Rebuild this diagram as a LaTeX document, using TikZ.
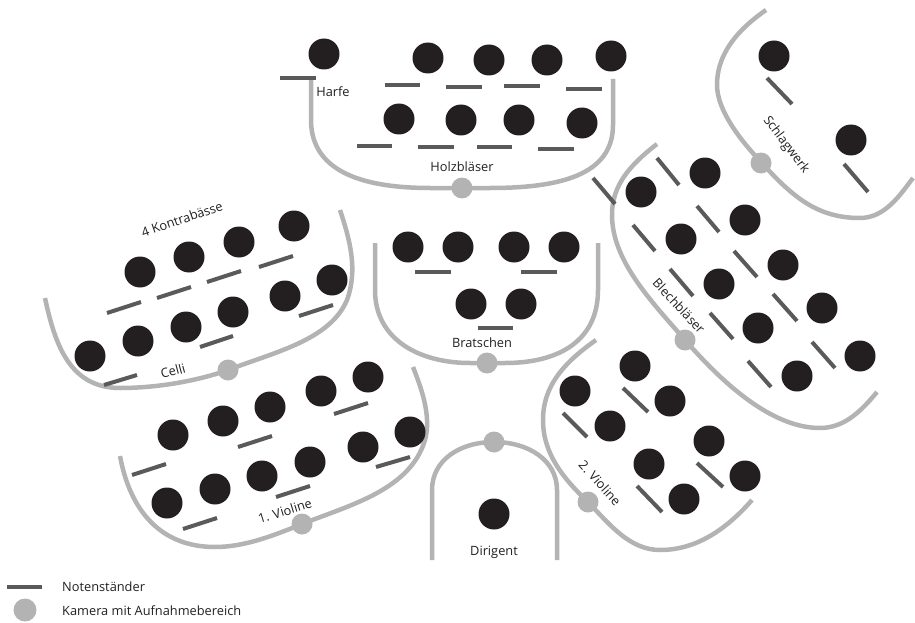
\documentclass[tikz,border=0pt]{standalone}
\usepackage{fontspec}
\setmainfont{Open Sans}
\definecolor{ink}{HTML}{231F20}
\definecolor{standc}{HTML}{5A5A5C}
\definecolor{wallc}{HTML}{B3B3B3}
\begin{document}
\begin{tikzpicture}[x=1pt,y=-1pt,
 player/.style={circle,fill=ink,minimum size=31pt,inner sep=0pt},
 cam/.style={circle,fill=wallc,minimum size=21pt,inner sep=0pt},
 stand/.style={draw=standc,line width=4pt},
 wall/.style={draw=wallc,line width=4.5pt},
 lbl/.style={text=ink,font=\fontsize{12.8}{15}\selectfont,inner sep=0pt}]
\useasboundingbox (0,0) rectangle (915,623);

% ---------- walls ----------
% Holzblaeser
\draw[wall] (311,78) -- (311,120) .. controls (311,175) and (370,188) .. (430,188) -- (490,188) .. controls (560,188) and (613,175) .. (613,125) -- (613,79);
% Schlagwerk
\draw[wall] (766,10) .. controls (730,35) and (717,60) .. (717,85) .. controls (717,110) and (740,140) .. (762,163) .. controls (795,200) and (820,218) .. (860,218) .. controls (885,218) and (900,195) .. (913,178);
% Blechblaeser
\draw[wall] (657,144) .. controls (630,165) and (612,185) .. (612,215) .. controls (612,260) and (650,300) .. (685,340) .. controls (720,380) and (770,428) .. (820,428) .. controls (845,428) and (862,410) .. (877,392);
% Celli
\draw[wall] (45,298) .. controls (55,345) and (70,388) .. (120,388) .. controls (160,388) and (200,380) .. (228,370) .. controls (275,352) and (330,340) .. (347,300) .. controls (358,270) and (350,240) .. (340,210);
% 1. Violine
\draw[wall] (120,456) .. controls (130,510) and (160,547) .. (215,547) .. controls (245,547) and (275,535) .. (302,524) .. controls (350,505) and (410,490) .. (425,440) .. controls (432,415) and (420,385) .. (413,367);
% Bratschen
\draw[wall] (375,243) -- (375,290) .. controls (375,340) and (420,363) .. (470,363) -- (505,363) .. controls (560,363) and (598,340) .. (598,290) -- (598,243);
% Dirigent
\draw[wall] (432,560) -- (432,490) .. controls (432,460) and (460,442) .. (494,442) .. controls (528,442) and (557,460) .. (557,490) -- (557,560);
% 2. Violine
\draw[wall] (596,340) .. controls (565,362) and (543,385) .. (543,420) .. controls (543,455) and (565,480) .. (588,502) .. controls (610,525) and (630,550) .. (660,550) .. controls (700,550) and (730,525) .. (752,500);

% ---------- cameras ----------
\node[cam] (camWW) at (462,188) {};
\node[cam] (camSW) at (761,163) {};
\node[cam] (camBB) at (685,340) {};
\node[cam] (camCE) at (228,370) {};
\node[cam] (camV1) at (302,524) {};
\node[cam] (camBR) at (487,363) {};
\node[cam] (camDI) at (494,442) {};
\node[cam] (camV2) at (588,502) {};

% ---------- music stands ----------
% Harfe + Holzblaeser
\draw[stand] (280,78) -- (316,78);
\draw[stand] (385,85) -- (420,85);
\draw[stand] (446,87) -- (482,87);
\draw[stand] (504,86) -- (540,86);
\draw[stand] (566,89) -- (602,89);
\draw[stand] (357,146) -- (392,146);
\draw[stand] (418,147) -- (454,147);
\draw[stand] (477,147) -- (512,147);
\draw[stand] (538,149) -- (574,149);
% Schlagwerk
\draw[stand] (767,78) -- (792,104);
\draw[stand] (844,164) -- (868,192);
% Blechblaeser
\draw[stand] (593,178) -- (615,204);
\draw[stand] (657,158) -- (679,185);
\draw[stand] (697,206) -- (719,232);
\draw[stand] (633,225) -- (655,251);
\draw[stand] (734,251) -- (757,277);
\draw[stand] (670,269) -- (693,296);
\draw[stand] (773,294) -- (797,321);
\draw[stand] (710,313) -- (733,339);
\draw[stand] (812,342) -- (835,368);
\draw[stand] (748,361) -- (771,387);
% Celli / Kontrabaesse
\draw[stand] (107,313) -- (141,302);
\draw[stand] (157,298) -- (191,287);
\draw[stand] (207,282) -- (241,271);
\draw[stand] (259,267) -- (293,256);
\draw[stand] (200,347) -- (233,336);
\draw[stand] (299,316) -- (333,305);
\draw[stand] (104,385) -- (137,375);
% 1. Violine
\draw[stand] (132,475) -- (166,464);
\draw[stand] (238,447) -- (272,436);
\draw[stand] (334,414) -- (368,403);
\draw[stand] (183,529) -- (217,518);
\draw[stand] (276,497) -- (310,486);
\draw[stand] (376,467) -- (410,457);
% Bratschen
\draw[stand] (415,272) -- (451,272);
\draw[stand] (521,272) -- (557,272);
\draw[stand] (478,328) -- (513,328);
% 2. Violine
\draw[stand] (563,413) -- (587,437);
\draw[stand] (623,388) -- (648,412);
\draw[stand] (697,463) -- (723,487);
\draw[stand] (637,486) -- (662,512);

% ---------- players ----------
% Harfe + Holzblaeser
\node[player] (hf) at (324,54) {};
\node[player] (w1) at (428,58) {};
\node[player] (w2) at (489,60) {};
\node[player] (w3) at (547,60) {};
\node[player] (w4) at (611,56) {};
\node[player] (w5) at (399,119) {};
\node[player] (w6) at (461,120) {};
\node[player] (w7) at (519,120) {};
\node[player] (w8) at (582,123) {};
% Schlagwerk
\node[player] (s1) at (774,56) {};
\node[player] (s2) at (851,140) {};
% Blechblaeser
\node[player] (b1) at (641,192) {};
\node[player] (b2) at (705,173) {};
\node[player] (b3) at (745,220) {};
\node[player] (b4) at (681,239) {};
\node[player] (b5) at (783,265) {};
\node[player] (b6) at (719,284) {};
\node[player] (b7) at (822,308) {};
\node[player] (b8) at (758,328) {};
\node[player] (b9) at (860,356) {};
\node[player] (b10) at (797,376) {};
% Kontrabaesse / Celli
\node[player] (k1) at (140,272) {};
\node[player] (k2) at (189,257) {};
\node[player] (k3) at (239,242) {};
\node[player] (k4) at (294,226) {};
\node[player] (c1) at (90,356) {};
\node[player] (c2) at (138,341) {};
\node[player] (c3) at (186,327) {};
\node[player] (c4) at (233,312) {};
\node[player] (c5) at (285,296) {};
\node[player] (c6) at (332,280) {};
% 1. Violine
\node[player] (v1) at (173,435) {};
\node[player] (v2) at (223,421) {};
\node[player] (v3) at (270,407) {};
\node[player] (v4) at (321,391) {};
\node[player] (v5) at (368,377) {};
\node[player] (v6) at (167,503) {};
\node[player] (v7) at (215,489) {};
\node[player] (v8) at (262,476) {};
\node[player] (v9) at (310,462) {};
\node[player] (v10) at (363,447) {};
\node[player] (v11) at (410,432) {};
% Bratschen
\node[player] (r1) at (408,247) {};
\node[player] (r2) at (458,247) {};
\node[player] (r3) at (514,247) {};
\node[player] (r4) at (564,247) {};
\node[player] (r5) at (471,304) {};
\node[player] (r6) at (521,304) {};
% Dirigent
\node[player] (di) at (494,514) {};
% 2. Violine
\node[player] (u1) at (575,391) {};
\node[player] (u2) at (635,366) {};
\node[player] (u3) at (670,401) {};
\node[player] (u4) at (610,426) {};
\node[player] (u5) at (709,441) {};
\node[player] (u6) at (649,464) {};
\node[player] (u7) at (745,476) {};
\node[player] (u8) at (684,499) {};

% ---------- labels ----------
\node[lbl] (tHarfe) at (333,92) {Harfe};
\node[lbl] (tHolz) at (462,167) {Holzbläser};
\node[lbl,rotate=-53] (tSchlag) at (786,145) {Schlagwerk};
\node[lbl,rotate=-47] (tBlech) at (679,306) {Blechbläser};
\node[lbl,rotate=19] (tKontra) at (182,219) {4 Kontrabässe};
\node[lbl,rotate=15] (tCelli) at (173,371) {Celli};
\node[lbl,rotate=17] (tV1) at (285,511) {1. Violine};
\node[lbl] (tBrat) at (482,343) {Bratschen};
\node[lbl] (tDir) at (494,552) {Dirigent};
\node[lbl,rotate=-48] (tV2) at (600,483) {2. Violine};

% ---------- legend ----------
\draw[stand,line width=4.5pt] (7,587) -- (42,587);
\node[cam,minimum size=23pt] (legCam) at (25,610) {};
\node[lbl,anchor=west] (legStand) at (62,587) {Notenständer};
\node[lbl,anchor=west] (legCamT) at (62,611) {Kamera mit Aufnahmebereich};
\end{tikzpicture}
\end{document}
